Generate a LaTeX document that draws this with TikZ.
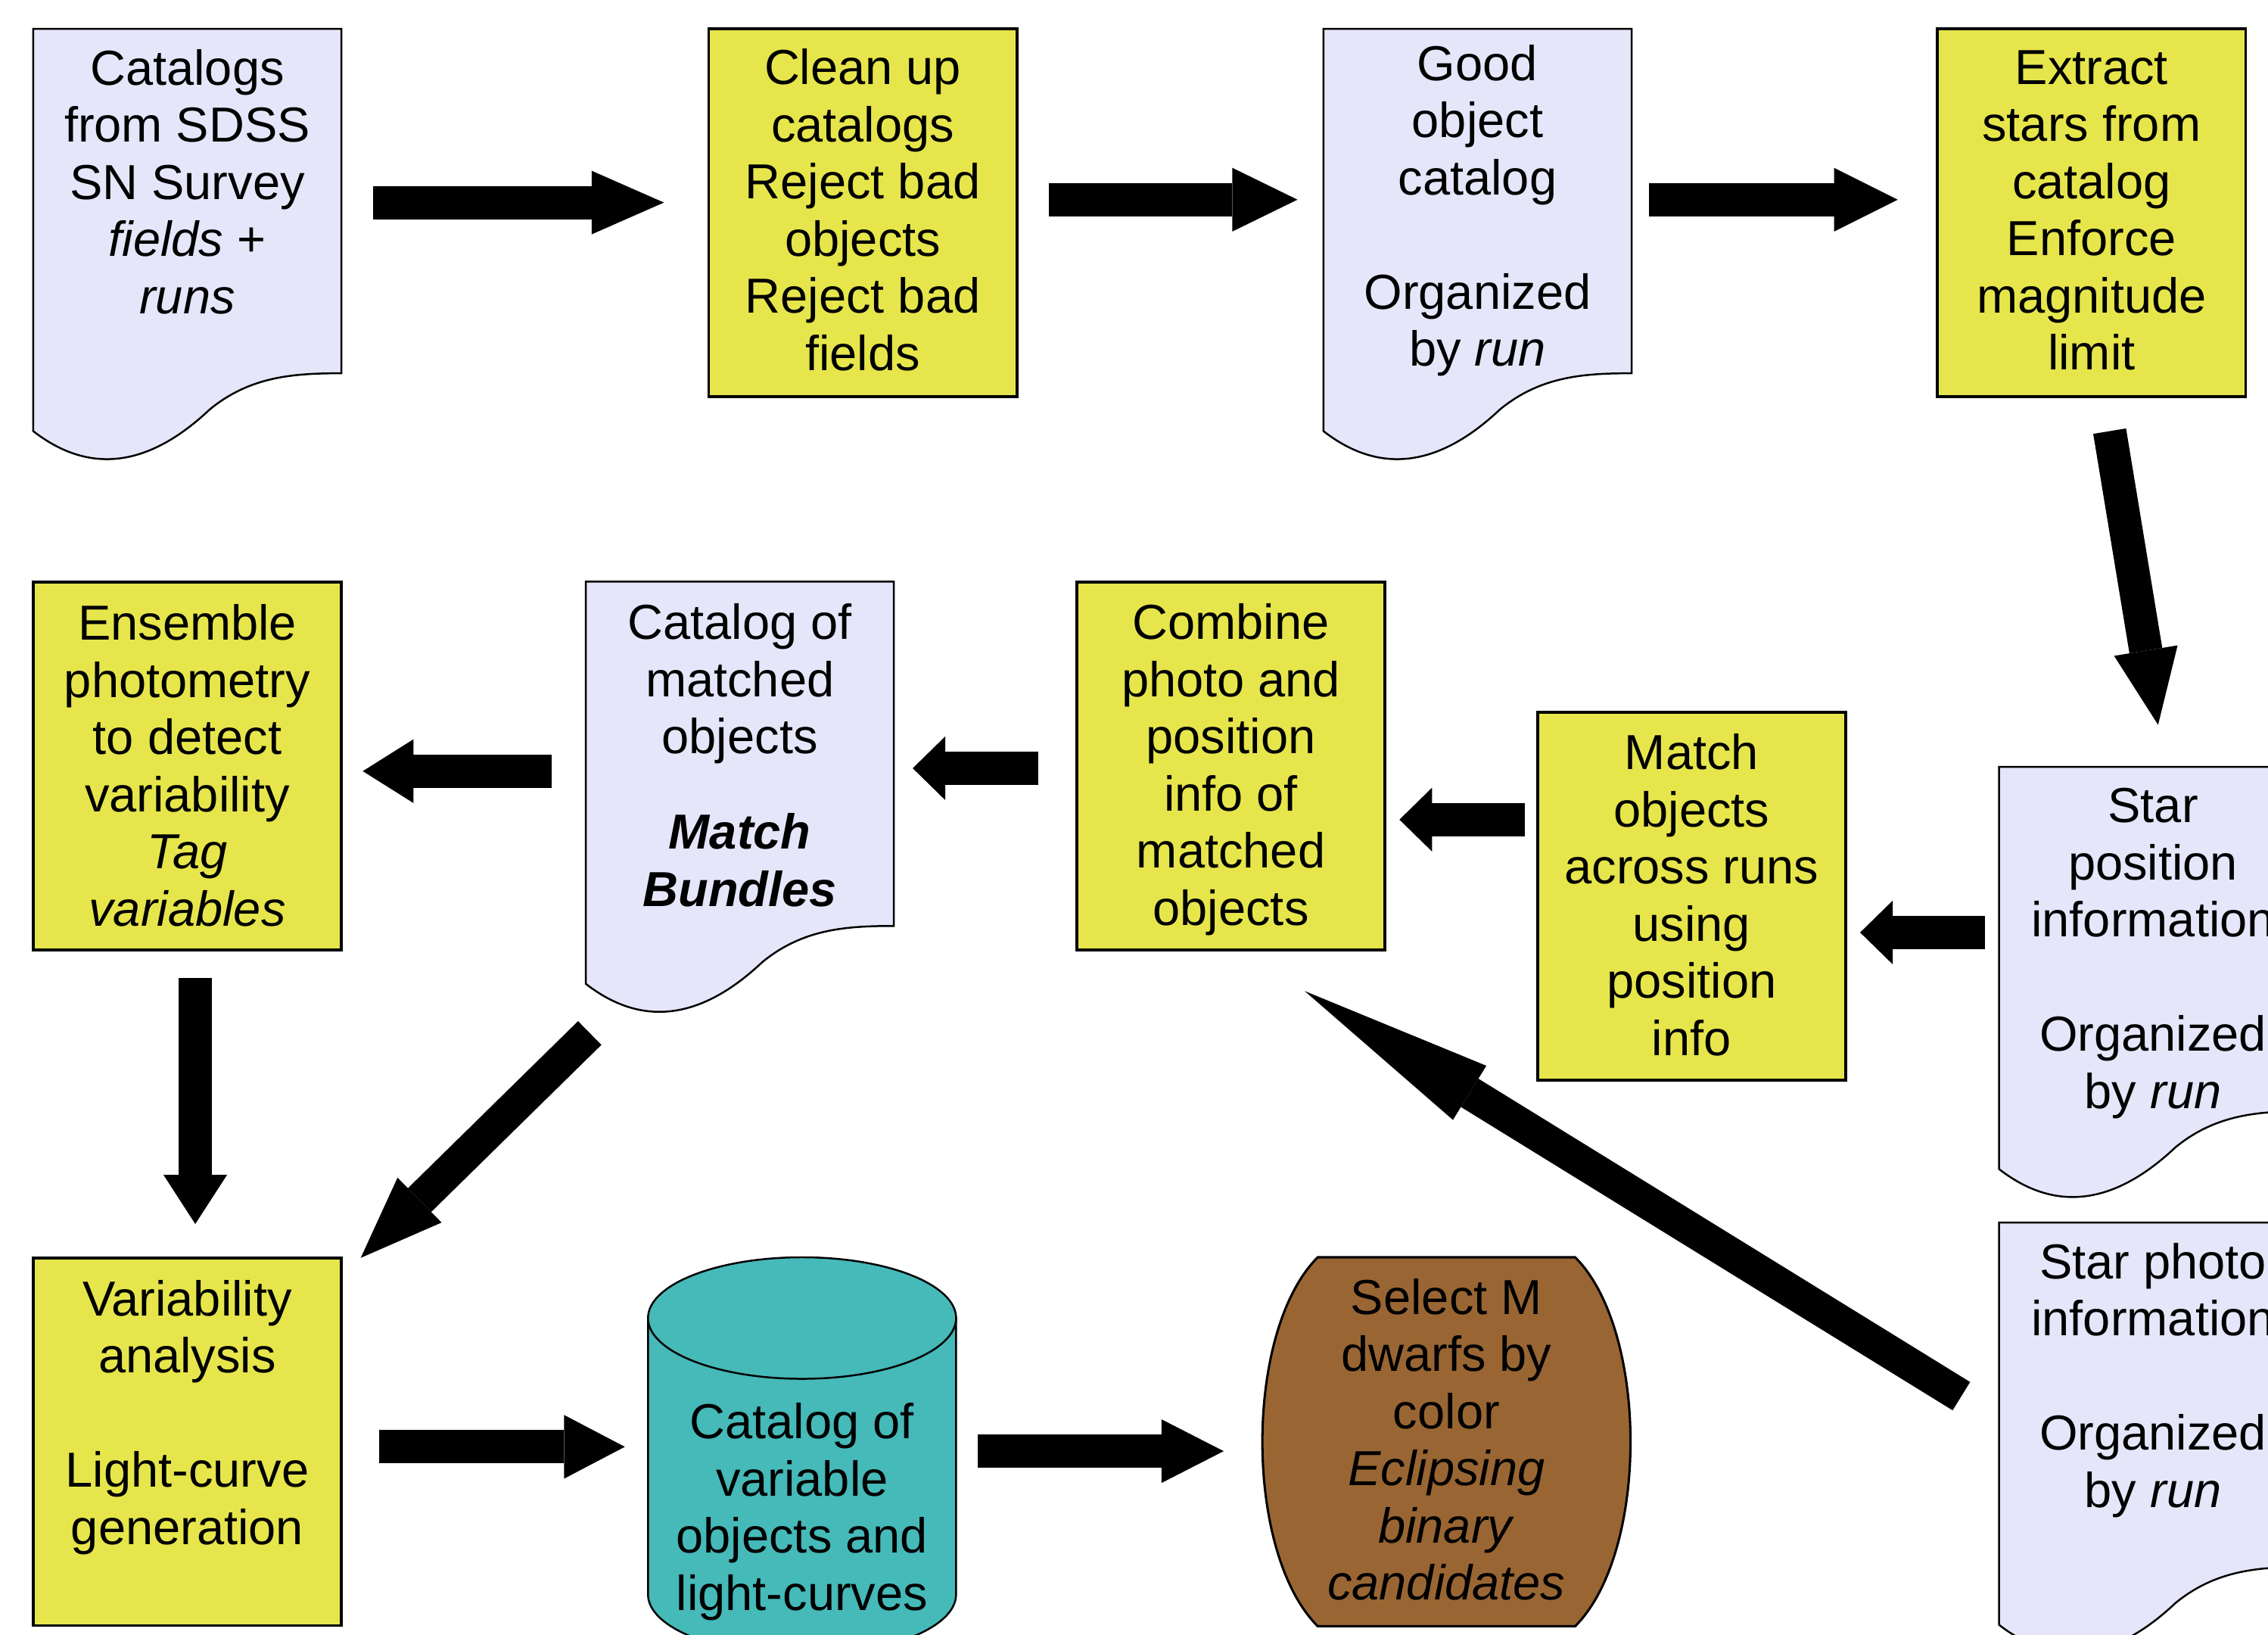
\documentclass[tikz,border=0pt]{standalone}
\usepackage{fontspec}
\setmainfont{Liberation Sans}
\usetikzlibrary{arrows.meta}
\definecolor{lav}{RGB}{230,230,250}
\definecolor{yel}{RGB}{230,230,76}
\definecolor{tealc}{RGB}{70,185,185}
\definecolor{brwn}{RGB}{153,102,51}
\newcommand\docshape[3]{%
  \filldraw[docbox] (#1,#2) -- (#1+213,#2) -- (#1+213,#3)
    .. controls (#1+180,#3) and (#1+150,#3+2) .. (#1+122,#3+25)
    .. controls (#1+87,#3+58) and (#1+45,#3+75) .. (#1,#3+40) -- cycle;}
\tikzset{
  docbox/.style={fill=lav, draw=black, line width=1.3pt, line join=miter},
  procbox/.style={rectangle, fill=yel, draw=black, line width=2pt, minimum width=213pt, minimum height=254pt, inner sep=0pt},
  txt/.style={font=\fontsize{34pt}{39.5pt}\selectfont, align=center, inner sep=0pt, text=black},
  blockarr/.style={line width=23pt, -{Triangle[length=#1, width=44pt, line width=0pt]}},
  blockarr/.default=50pt,
}
\begin{document}
\begin{tikzpicture}[x=1pt, y=-1pt]
\clip (0,0) rectangle (1568,1130);
\fill[white] (0,0) rectangle (1568,1130);

% ---- document shapes ----
\docshape{23}{20}{258}
\docshape{915}{20}{258}
\docshape{405}{402}{640}
\docshape{1382}{530}{768}
\docshape{1382}{845}{1083}

% ---- process boxes ----
\node[procbox] (clean) at (596.5,147) {};
\node[procbox] (extract) at (1446,147) {};
\node[procbox] (ensemble) at (129.5,529.5) {};
\node[procbox] (combine) at (851,529.5) {};
\node[procbox] (matchobj) at (1169.5,619.5) {};
\node[procbox] (variab) at (129.5,996.5) {};

% ---- cylinder ----
\filldraw[fill=tealc, draw=black, line width=1.3pt] (448,911) -- (448,1102)
  arc[start angle=180, end angle=0, x radius=106.5, y radius=42] -- (661,911) -- cycle;
\filldraw[fill=tealc, draw=black, line width=1.3pt] (554.5,911) ellipse [x radius=106.5, y radius=42];

% ---- brown barrel ----
\filldraw[fill=brwn, draw=black, line width=1.6pt] (911,869) -- (1089,869)
  .. controls (1140,920) and (1140,1073) .. (1089,1124) -- (911,1124)
  .. controls (860,1073) and (860,920) .. (911,869) -- cycle;

% ---- texts ----
\node[txt] (tcat) at (129.5,125.5) {Catalogs\\from SDSS\\SN Survey\\\textit{fields} +\\\textit{runs}};
\node[txt] (tclean) at (596.5,145) {Clean up\\catalogs\\Reject bad\\objects\\Reject bad\\fields};
\node[txt] (tgood) at (1021.5,145.5) {Good\\object\\catalog\\[39.5pt]Organized\\by \textit{run}};
\node[txt] (textract) at (1446,145.5) {Extract\\stars from\\catalog\\Enforce\\magnitude\\limit};
\node[txt] (tens) at (129.5,529) {Ensemble\\photometry\\to detect\\variability\\\textit{Tag}\\\textit{variables}};
\node[txt] (tmatched) at (511.5,522) {Catalog of\\matched\\objects\\[26.5pt]\textbf{\textit{Match}}\\\textbf{\textit{Bundles}}};
\node[txt] (tcombine) at (851,532) {Combine\\photo and\\position\\info of\\matched\\objects};
\node[txt] (tmatchobj) at (1169.5,618.5) {Match\\objects\\across runs\\using\\position\\info};
\node[txt] (tstarpos) at (1488.5,659) {Star\\position\\information\\[39.5pt]Organized\\by \textit{run}};
\node[txt] (tstarphot) at (1488.5,954) {Star photo\\information\\[39.5pt]Organized\\by \textit{run}};
\node[txt] (tvar) at (129.5,979.5) {Variability\\analysis\\[39.5pt]Light-curve\\generation};
\node[txt] (tcyl) at (554.5,1045) {Catalog of\\variable\\objects and\\light-curves};
\node[txt] (tbrown) at (1000,995) {Select M\\dwarfs by\\color\\\textit{Eclipsing}\\\textit{binary}\\\textit{candidates}};

% ---- arrow end points ----
\coordinate (a1s) at (258,140);   \coordinate (a1e) at (459,140);
\coordinate (a2s) at (725,138);   \coordinate (a2e) at (897,138);
\coordinate (a3s) at (1140,138);  \coordinate (a3e) at (1312,138);
\coordinate (a4s) at (1458.5,298);\coordinate (a4e) at (1492,501);
\coordinate (a5s) at (1372.5,644.5); \coordinate (a5e) at (1286,644.5);
\coordinate (a6s) at (1054,566.5);  \coordinate (a6e) at (967.5,566.5);
\coordinate (a7s) at (718,531);   \coordinate (a7e) at (631,531);
\coordinate (a8s) at (381.6,533); \coordinate (a8e) at (250.8,533);
\coordinate (a9s) at (1356,965);  \coordinate (a9e) at (902,685);
\coordinate (a10s) at (135,676);  \coordinate (a10e) at (135,846);
\coordinate (a11s) at (407.7,714);\coordinate (a11e) at (249.4,869.4);
\coordinate (a12s) at (262,1000); \coordinate (a12e) at (432,1000);
\coordinate (a13s) at (676,1003); \coordinate (a13e) at (846,1003);

\draw[blockarr=50pt] (a1s) -- (a1e);
\draw[blockarr=45pt] (a2s) -- (a2e);
\draw[blockarr=44pt] (a3s) -- (a3e);
\draw[blockarr, -{Triangle[length=52pt, width=44.5pt, line width=0pt]}] (a4s) -- (a4e);
\draw[blockarr=22.5pt] (a5s) -- (a5e);
\draw[blockarr=22.5pt] (a6s) -- (a6e);
\draw[blockarr=22.5pt] (a7s) -- (a7e);
\draw[blockarr=35pt] (a8s) -- (a8e);
\draw[blockarr, -{Triangle[length=134pt, width=44pt, line width=0pt]}] (a9s) -- (a9e);
\draw[blockarr=34pt] (a10s) -- (a10e);
\draw[blockarr, -{Triangle[length=57pt, width=43.5pt, line width=0pt]}] (a11s) -- (a11e);
\draw[blockarr=42pt] (a12s) -- (a12e);
\draw[blockarr=43pt] (a13s) -- (a13e);
\end{tikzpicture}
\end{document}
